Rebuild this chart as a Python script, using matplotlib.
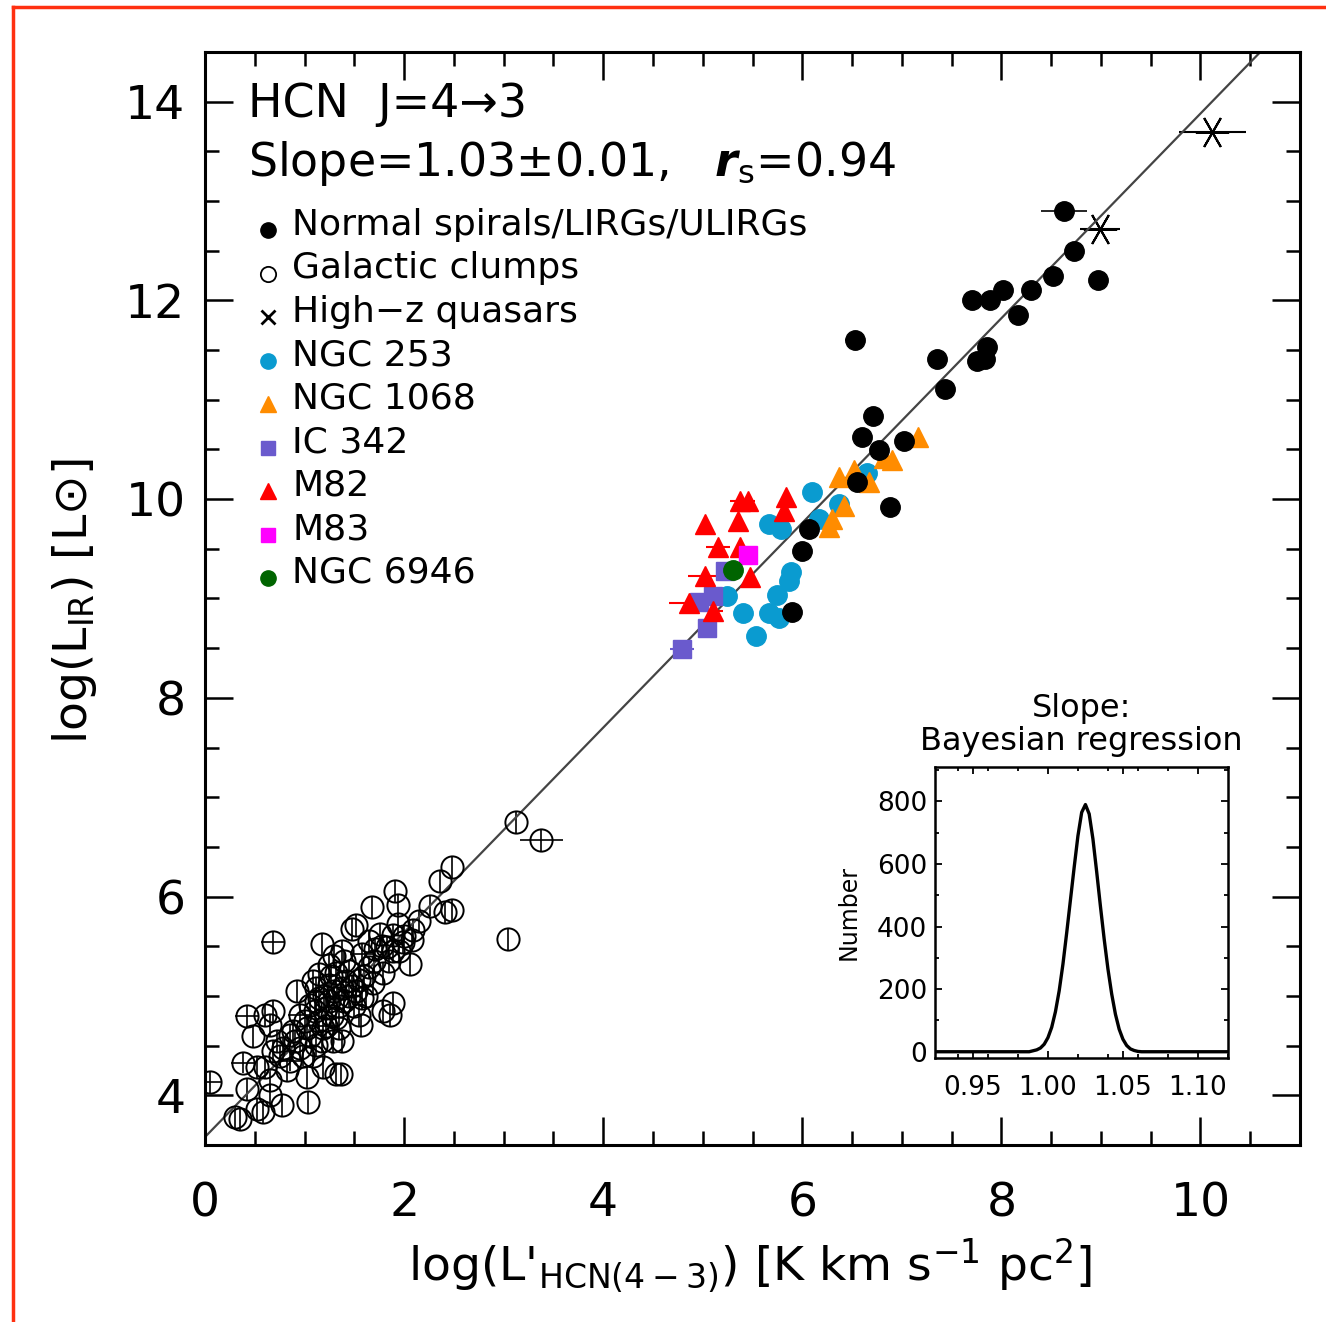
import numpy as np
import matplotlib
matplotlib.use("Agg")
from matplotlib import pyplot as plt
from matplotlib.lines import Line2D
from matplotlib.ticker import MultipleLocator

plt.rcParams["font.family"] = ["DejaVu Sans"]
plt.rcParams["mathtext.fontset"] = "dejavusans"

# ---- data ----
# Galactic clumps (open circles with error bars)
clump_x = [2.48, 2.36, 1.91, 1.94, 1.68, 2.26, 2.48, 2.41, 1.48, 1.52, 1.94, 2.09, 1.76, 1.89,
           1.99, 2.08, 0.68, 1.18, 3.04, 1.38, 1.58, 1.71, 1.83, 1.89, 2.06, 1.25, 1.15, 1.32,
           1.45, 1.65, 1.79, 1.55, 0.92, 1.12, 1.25, 1.38, 1.52, 1.69, 1.58, 1.15, 0.68, 1.89,
           1.86, 0.42, 0.60, 0.48, 0.65, 0.95, 1.05, 1.22, 1.32, 1.55, 1.57, 1.35, 1.19, 1.02,
           0.85, 0.78, 0.95, 1.12, 1.29, 1.38, 0.68, 0.38, 0.52, 0.60, 0.85, 1.02, 1.19, 1.32,
           1.37, 0.65, 0.42, 0.65, 0.77, 1.03, 0.52, 0.58, 0.35, 0.30, 0.05, 3.12, 3.38, 1.20,
           1.25, 1.30, 1.35, 1.10, 1.15, 1.28, 1.40, 1.22, 1.05, 1.18, 0.98, 1.08, 0.90, 1.45,
           1.50, 1.60, 1.70, 1.78, 1.85, 1.95, 2.00, 1.65, 1.40, 1.30, 1.12, 1.00, 0.88, 0.75,
           0.72, 1.79, 1.42, 1.48, 1.62, 1.08, 1.27, 1.33, 0.82, 2.15]
clump_y = [6.30, 6.16, 6.06, 5.92, 5.89, 5.91, 5.86, 5.84, 5.67, 5.71, 5.72, 5.66, 5.62, 5.61,
           5.54, 5.56, 5.54, 5.52, 5.57, 5.45, 5.42, 5.47, 5.49, 5.45, 5.32, 5.31, 5.22, 5.23,
           5.25, 5.29, 5.23, 5.16, 5.05, 5.08, 5.11, 5.08, 5.05, 5.13, 4.98, 4.98, 4.85, 4.93,
           4.81, 4.80, 4.81, 4.60, 4.71, 4.81, 4.91, 4.88, 4.78, 4.81, 4.71, 4.68, 4.68, 4.68,
           4.61, 4.48, 4.48, 4.51, 4.55, 4.55, 4.45, 4.33, 4.28, 4.28, 4.35, 4.18, 4.28, 4.21,
           4.21, 4.15, 4.06, 4.00, 3.90, 3.93, 3.86, 3.83, 3.76, 3.78, 4.13, 6.75, 6.57, 5.00,
           4.95, 5.05, 4.90, 4.85, 4.75, 4.80, 4.95, 4.70, 4.60, 4.55, 4.40, 4.40, 4.55, 5.00,
           4.90, 5.20, 5.35, 5.50, 5.35, 5.45, 5.60, 5.55, 5.35, 5.40, 4.95, 4.75, 4.65, 4.40,
           4.55, 4.85, 5.15, 5.10, 5.00, 5.15, 5.20, 4.98, 4.25, 5.75]
clump_xerr = [0.0] * len(clump_x)
for i in (16, 43, 80, 63, 20, 47, 66, 91):
    clump_xerr[i] = 0.12
clump_xerr[82] = 0.22
clump_yerr = [0.11] * len(clump_x)

# Normal spirals / LIRGs / ULIRGs
normal_x = [6.53, 7.35, 7.43, 6.71, 6.60, 7.02, 6.77, 6.55, 6.88, 6.07, 6.00, 5.90,
            8.63, 8.73, 8.52, 8.30, 8.02, 7.89, 7.70, 8.17, 8.97, 7.86, 7.76, 7.84]
normal_y = [11.60, 11.41, 11.11, 10.84, 10.63, 10.58, 10.49, 10.17, 9.92, 9.70, 9.48, 8.86,
            12.90, 12.50, 12.25, 12.10, 12.10, 12.00, 12.00, 11.85, 12.21, 11.53, 11.39, 11.41]
normal_xerr = [0.10, 0, 0, 0, 0, 0, 0, 0, 0, 0, 0.07, 0,
               0.23, 0, 0, 0, 0, 0, 0, 0, 0, 0, 0, 0]

# High-z quasars
qso_x = [8.99, 10.12]
qso_y = [12.72, 13.69]
qso_xerr = [0.20, 0.34]

# NGC 253
n253_x = [6.65, 6.10, 6.37, 6.17, 5.67, 5.79, 5.89, 5.87, 5.75, 5.40, 5.67, 5.77, 5.54, 5.24]
n253_y = [10.26, 10.07, 9.95, 9.80, 9.75, 9.70, 9.27, 9.18, 9.03, 8.85, 8.85, 8.80, 8.62, 9.02]

# NGC 1068
n1068_x = [6.37, 6.52, 6.82, 6.90, 7.16, 6.67, 6.42, 6.30, 6.27]
n1068_y = [10.22, 10.29, 10.41, 10.39, 10.63, 10.17, 9.93, 9.80, 9.72]

# IC 342
ic342_x = [5.10, 4.96, 5.04, 4.79, 5.22]
ic342_y = [9.02, 8.96, 8.70, 8.49, 9.28]
ic342_xerr = [0.05, 0.05, 0.0, 0.12, 0.0]

# M82
m82_x = [5.37, 5.45, 5.35, 5.84, 5.82, 5.02, 5.15, 5.37, 5.02, 5.47, 4.86, 5.10]
m82_y = [9.98, 9.98, 9.78, 10.02, 9.88, 9.75, 9.52, 9.52, 9.23, 9.22, 8.95, 8.87]
m82_xerr = [0.10, 0.08, 0.0, 0.0, 0.0, 0.0, 0.12, 0.0, 0.17, 0.0, 0.20, 0.10]

# M83
m83_x = [5.45]
m83_y = [9.44]

# NGC 6946
n6946_x = [5.30]
n6946_y = [9.29]
n6946_xerr = [0.10]

# fit
fit_slope = 1.03
fit_icpt = 3.58

# inset: posterior distribution of slope
post_x = [0.925, 0.9875, 0.990, 0.9925, 0.995, 0.9975, 1.000, 1.0025, 1.005, 1.0075, 1.010,
          1.0125, 1.015, 1.0175, 1.020, 1.0225, 1.025, 1.0275, 1.030, 1.0325, 1.035, 1.0375,
          1.040, 1.0425, 1.045, 1.0475, 1.050, 1.0525, 1.055, 1.0575, 1.060, 1.0625, 1.12]
post_n = [0, 0, 3, 6, 12, 24, 45, 78, 128, 195, 280, 380, 485, 590, 690, 765, 790, 760, 680,
          575, 465, 360, 265, 185, 120, 72, 40, 20, 9, 4, 1, 0, 0]

legend_labels = ["Normal spirals/LIRGs/ULIRGs", "Galactic clumps", "High\u2212z quasars",
                 "NGC 253", "NGC 1068", "IC 342", "M82", "M83", "NGC 6946"]

# ---- figure ----
fig = plt.figure(figsize=(13.26, 13.22), dpi=100)
ax = fig.add_axes([0.1546, 0.1339, 0.8258, 0.8268])

eb = dict(ls="none", ecolor="black", elinewidth=1.2, capsize=0)

ax.errorbar(clump_x, clump_y, xerr=clump_xerr, yerr=clump_yerr, fmt="o", ms=16,
            mfc="none", mec="black", mew=1.4, **eb)
ax.errorbar(n253_x, n253_y, fmt="o", ms=14, color="#0a9bd0", mec="#0a9bd0", ls="none")
ax.errorbar(n1068_x, n1068_y, fmt="^", ms=15, color="#ff8c00", ls="none")
ax.errorbar(ic342_x, ic342_y, xerr=ic342_xerr, fmt="s", ms=13, color="#6a5acd",
            ecolor="#6a5acd", ls="none")
ax.errorbar(m82_x, m82_y, xerr=m82_xerr, fmt="^", ms=15, color="red", ecolor="red",
            elinewidth=1.5, ls="none")
ax.errorbar(m83_x, m83_y, fmt="s", ms=13, color="#ff00ff", ls="none")
ax.errorbar(n6946_x, n6946_y, xerr=n6946_xerr, fmt="o", ms=14, color="#006400",
            ecolor="#006400", elinewidth=1.5, ls="none")
ax.errorbar(normal_x, normal_y, xerr=normal_xerr, fmt="o", ms=14, color="black", **eb)
ax.errorbar(qso_x, qso_y, xerr=qso_xerr, fmt="none", ecolor="black", elinewidth=1.5)
ax.plot(qso_x, qso_y, ls="none", marker=(6, 2, 90), ms=24, mec="black", mew=1.5)

xx = np.array([0.0, 11.0])
ax.plot(xx, fit_icpt + fit_slope * xx, color="#444444", lw=1.6)

ax.set_xlim(0, 11)
ax.set_ylim(3.5, 14.5)
ax.xaxis.set_major_locator(MultipleLocator(2))
ax.xaxis.set_minor_locator(MultipleLocator(0.5))
ax.yaxis.set_major_locator(MultipleLocator(2))
ax.yaxis.set_minor_locator(MultipleLocator(0.5))
ax.tick_params(which="both", direction="in", top=True, right=True, width=1.8)
ax.tick_params(which="major", length=20, labelsize=34)
ax.tick_params(which="minor", length=10)
ax.tick_params(axis="x", which="major", pad=26)
ax.tick_params(axis="y", which="major", pad=14)
for sp in ax.spines.values():
    sp.set_linewidth(2.2)

fig.text(0.0565, 0.545, r"log(L$_{\rm IR}$) " + "[L\u2299]", rotation=90, fontsize=34,
         ha="center", va="center")
fig.text(0.566, 0.043, r"log(L'$_{\rm HCN(4-3)}$) [K km s$^{-1}$ pc$^{2}$]", fontsize=34,
         ha="center", va="center")

ax.text(0.039, 0.952, "HCN  J=4\u21923", transform=ax.transAxes, fontsize=33,
        ha="left", va="center")
ax.text(0.039, 0.898, r"Slope=1.03$\pm$0.01,   $\boldsymbol{r}_{\rm s}$=0.94",
        transform=ax.transAxes, fontsize=33, ha="left", va="center")

# legend (manual)
leg_style = [dict(marker="o", ms=11, color="black", mfc="black"),
             dict(marker="o", ms=11, color="black", mfc="none", mew=1.3),
             dict(marker="x", ms=10, color="black", mew=2),
             dict(marker="o", ms=11, color="#0a9bd0"),
             dict(marker="^", ms=12, color="#ff8c00"),
             dict(marker="s", ms=10, color="#6a5acd"),
             dict(marker="^", ms=12, color="red"),
             dict(marker="s", ms=10, color="#ff00ff"),
             dict(marker="o", ms=11, color="#006400")]
y0 = 0.842
dy = 0.0398
for k, (lab, st) in enumerate(zip(legend_labels, leg_style)):
    yy = y0 - k * dy
    ax.plot([0.0575], [yy - 0.005], ls="none", transform=ax.transAxes, clip_on=False, **st)
    ax.text(0.0795, yy, lab, transform=ax.transAxes, fontsize=26, ha="left", va="center")

# inset
ax_in = fig.add_axes([0.7055, 0.1997, 0.2205, 0.2201])
ax_in.plot(post_x, post_n, color="black", lw=2.4)
ax_in.set_xlim(0.925, 1.12)
ax_in.set_ylim(-20, 910)
ax_in.set_xticks([0.95, 1.00, 1.05, 1.10])
ax_in.set_xticklabels(["0.95", "1.00", "1.05", "1.10"])
ax_in.xaxis.set_minor_locator(MultipleLocator(0.02))
ax_in.yaxis.set_major_locator(MultipleLocator(200))
ax_in.yaxis.set_minor_locator(MultipleLocator(100))
ax_in.tick_params(which="both", direction="in", top=True, right=True, width=1.3)
ax_in.tick_params(which="major", length=5, labelsize=19)
ax_in.tick_params(which="minor", length=3)
ax_in.tick_params(axis="x", which="major", pad=12)
ax_in.tick_params(axis="y", which="major", pad=6)
for sp in ax_in.spines.values():
    sp.set_linewidth(1.8)
ax_in.set_ylabel("Number", fontsize=17, labelpad=12)
ax_in.set_title("Slope:\nBayesian regression", fontsize=23, linespacing=1.1, pad=12)

# red frame lines of the original crop
fig.add_artist(Line2D([13 / 1326, 1.0], [1 - 7 / 1322, 1 - 7 / 1322], color="#ff3010",
                      lw=2.5, transform=fig.transFigure))
fig.add_artist(Line2D([13 / 1326, 13 / 1326], [0.0, 1 - 7 / 1322], color="#ff3010",
                      lw=2.5, transform=fig.transFigure))

fig.savefig("out.png", dpi=100)
